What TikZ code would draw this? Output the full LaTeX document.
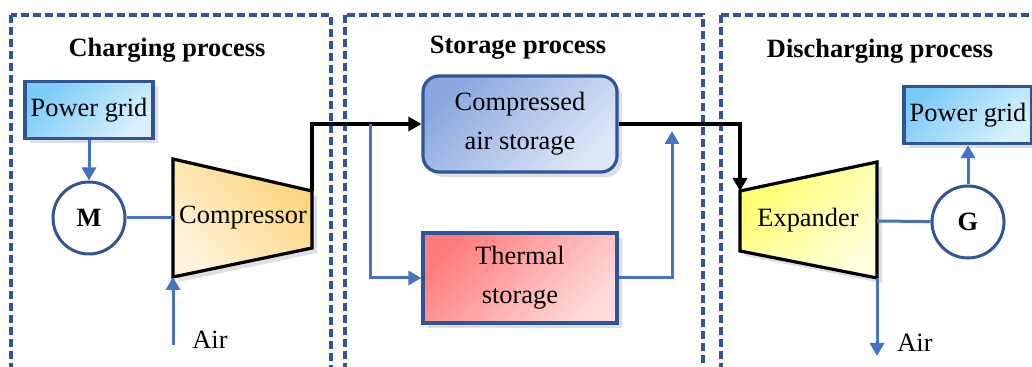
\documentclass[tikz,border=0pt]{standalone}
\usepackage{fontspec}
\setmainfont{Liberation Serif}
\usetikzlibrary{arrows.meta,shadows}
\definecolor{panelblue}{HTML}{2F5597}
\definecolor{lineblue}{HTML}{4472C4}
\definecolor{gridA}{HTML}{7ACBF7}
\definecolor{gridB}{HTML}{DAF1FD}
\definecolor{casA}{HTML}{8AA8DE}
\definecolor{casB}{HTML}{DDE6F6}
\definecolor{tsA}{HTML}{FF7C7C}
\definecolor{tsB}{HTML}{FFDADA}
\definecolor{compA}{HTML}{FCD47A}
\definecolor{compB}{HTML}{FFF3DA}
\definecolor{expA}{HTML}{FFFF6E}
\definecolor{expB}{HTML}{FFFFDC}

\begin{document}
\begin{tikzpicture}[x=0.5pt,y=-0.5pt,
  panel/.style={draw=panelblue, line width=1.7pt, dash pattern=on 4.2pt off 1.8pt},
  ttl/.style={font=\fontsize{13.2}{16}\selectfont\bfseries},
  lbl/.style={font=\fontsize{13.2}{16}\selectfont},
  sbox/.style={draw=panelblue, line width=1.6pt, align=center, inner sep=1pt,
    font=\fontsize{13.2}{19.5}\selectfont,
    drop shadow={opacity=0.25, shadow xshift=2.5pt, shadow yshift=-2.5pt}},
  gridbox/.style={sbox, top color=gridA, bottom color=gridB, shading angle=45,
    minimum width=64pt, minimum height=28.5pt},
  mach/.style={draw=panelblue, line width=1.5pt, circle, fill=white, minimum size=36pt,
    inner sep=0pt, font=\fontsize{13.2}{16}\selectfont\bfseries},
  trap/.style={draw=black, line width=1.6pt, line join=miter,
    drop shadow={opacity=0.25, shadow xshift=2.5pt, shadow yshift=-2.5pt}},
  bl/.style={draw=lineblue, line width=1.5pt},
  bk/.style={draw=black, line width=1.6pt},
  >={Triangle[length=6.5pt,width=7pt]}]
  \useasboundingbox (0,0) rectangle (1032,367);
  % panels
  \draw[panel] (11,15) rectangle (331,400);
  \draw[panel] (345,15) rectangle (703,400);
  \draw[panel] (721,15) rectangle (1060,400);
  \node[ttl] (t1) at (167,50) {Charging process};
  \node[ttl] (t2) at (518,48) {Storage process};
  \node[ttl] (t3) at (880,51) {Discharging process};

  % charging
  \node[gridbox] (pg1) at (89,110) {Power grid};
  \node[mach] (m) at (89,218) {M};
  \coordinate (c1) at (173,159); \coordinate (c2) at (312,191);
  \coordinate (c3) at (312,248); \coordinate (c4) at (173,277);
  \draw[trap, top color=compA, bottom color=compB, shading angle=-45]
    (c1) -- (c2) -- (c3) -- (c4) -- cycle;
  \node[lbl] (comp) at (243,218) {Compressor};
  \coordinate (cin) at (173,218);
  \coordinate (air1in) at (173,345);
  \node[lbl] (air1) at (210,340) {Air};
  \draw[bl,->] (pg1) -- (m);
  \draw[bl] (m) -- (cin);
  \draw[bl,->] (air1in) -- (c4);

  % storage
  \node[sbox, rounded corners=8pt, top color=casA, bottom color=casB,
    shading angle=45, minimum width=97pt, minimum height=48pt] (cas) at (520,124) {Compressed\\air storage};
  \node[sbox, top color=tsA, bottom color=tsB, shading angle=45,
    minimum width=97pt, minimum height=45pt] (ts) at (520,278) {Thermal\\storage};
  \coordinate (br) at (370,124);
  \coordinate (rise) at (672,131);
  \draw[bk,->] (c2) |- (cas);
  \draw[bl,->] (br) |- (ts);
  \draw[bl,->] (ts) -| (rise);

  % discharging
  \coordinate (e1) at (740,191); \coordinate (e2) at (877,162);
  \coordinate (e3) at (877,278); \coordinate (e4) at (740,251);
  \draw[trap, top color=expA, bottom color=expB, shading angle=45]
    (e1) -- (e2) -- (e3) -- (e4) -- cycle;
  \node[lbl] (exp) at (808,220) {Expander};
  \node[mach] (g) at (968,222) {G};
  \node[gridbox] (pg2) at (968,115) {Power grid};
  \coordinate (eout) at (877,221);
  \coordinate (air2out) at (877,356);
  \node[lbl] (air2) at (915,343) {Air};
  \draw[bk,->] (cas) -| (e1);
  \draw[bl] (eout) -- (g);
  \draw[bl,->] (g) -- (pg2);
  \draw[bl,->] (e3) -- (air2out);
\end{tikzpicture}
\end{document}
